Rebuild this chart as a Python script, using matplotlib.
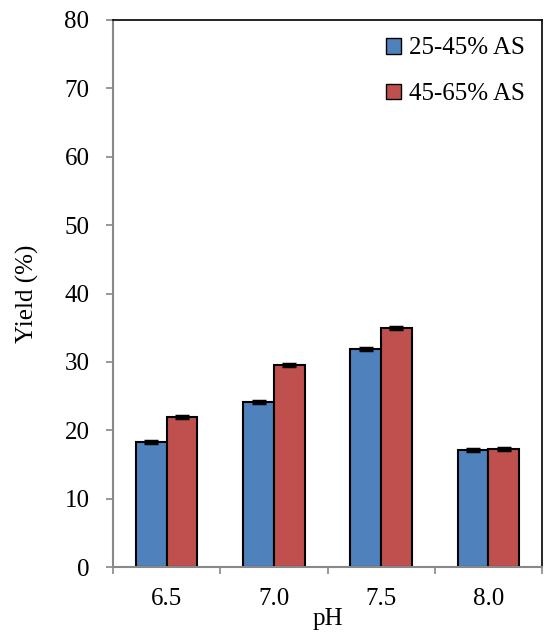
import numpy as np
from matplotlib import pyplot as plt
from matplotlib.patches import Patch

plt.rcParams['font.family'] = ['Liberation Serif', 'DejaVu Serif']
FS = 18

ph_labels = ['6.5', '7.0', '7.5', '8.0']
series_names = ['25-45% AS', '45-65% AS']
yield_low = [18.3, 24.1, 31.9, 17.1]
yield_high = [21.9, 29.5, 35.0, 17.2]
err_low = [0.15, 0.12, 0.12, 0.1]
err_high = [0.12, 0.12, 0.15, 0.15]
colors = ['#4f81bd', '#c0504d']

fig = plt.figure(figsize=(5.46, 6.37), dpi=100)
ax = fig.add_axes([113 / 546, 1 - 567 / 637, (542 - 113) / 546, (567 - 20) / 637])

x = np.arange(len(ph_labels))
w = 0.286
for i, (vals, errs) in enumerate([(yield_low, err_low), (yield_high, err_high)]):
	ax.bar(x + (i - 0.5) * w, vals, w, color=colors[i], edgecolor='black', linewidth=1.5,
		yerr=errs, error_kw=dict(ecolor='black', elinewidth=1.5, capsize=5, capthick=2.5), zorder=2)

ax.set_xlim(-0.5, len(ph_labels) - 0.5)
ax.set_ylim(0, 80)
ax.set_yticks(range(0, 81, 10))
ax.set_xticks(x)
ax.set_xticklabels(ph_labels)
ax.set_xticks(np.arange(-0.5, len(ph_labels), 1), minor=True)
ax.tick_params(axis='x', which='major', length=0, labelsize=FS, pad=15)
ax.tick_params(axis='x', which='minor', length=5, color='#888888', width=1.2)
ax.tick_params(axis='y', length=5, color='#888888', width=1.2, labelsize=FS, pad=12)

for side in ['left', 'bottom']:
	ax.spines[side].set_color('#888888')
	ax.spines[side].set_linewidth(1.5)
for side in ['top', 'right']:
	ax.spines[side].set_color('black')
	ax.spines[side].set_linewidth(1.2)

ax.set_ylabel('Yield (%)', fontsize=FS)
ax.yaxis.set_label_coords(-0.172, 0.5)
ax.set_xlabel('pH', fontsize=FS)
ax.xaxis.set_label_coords(0.5, -0.075)

handles = [Patch(facecolor=colors[i], edgecolor='black', linewidth=1) for i in range(2)]
ax.legend(handles, series_names, loc='upper right', bbox_to_anchor=(1.0, 1.0), frameon=False,
	fontsize=FS, handlelength=0.6, handleheight=0.6, handletextpad=0.3, labelspacing=0.95,
	borderaxespad=0.3)

plt.savefig('out.png', dpi=100)
